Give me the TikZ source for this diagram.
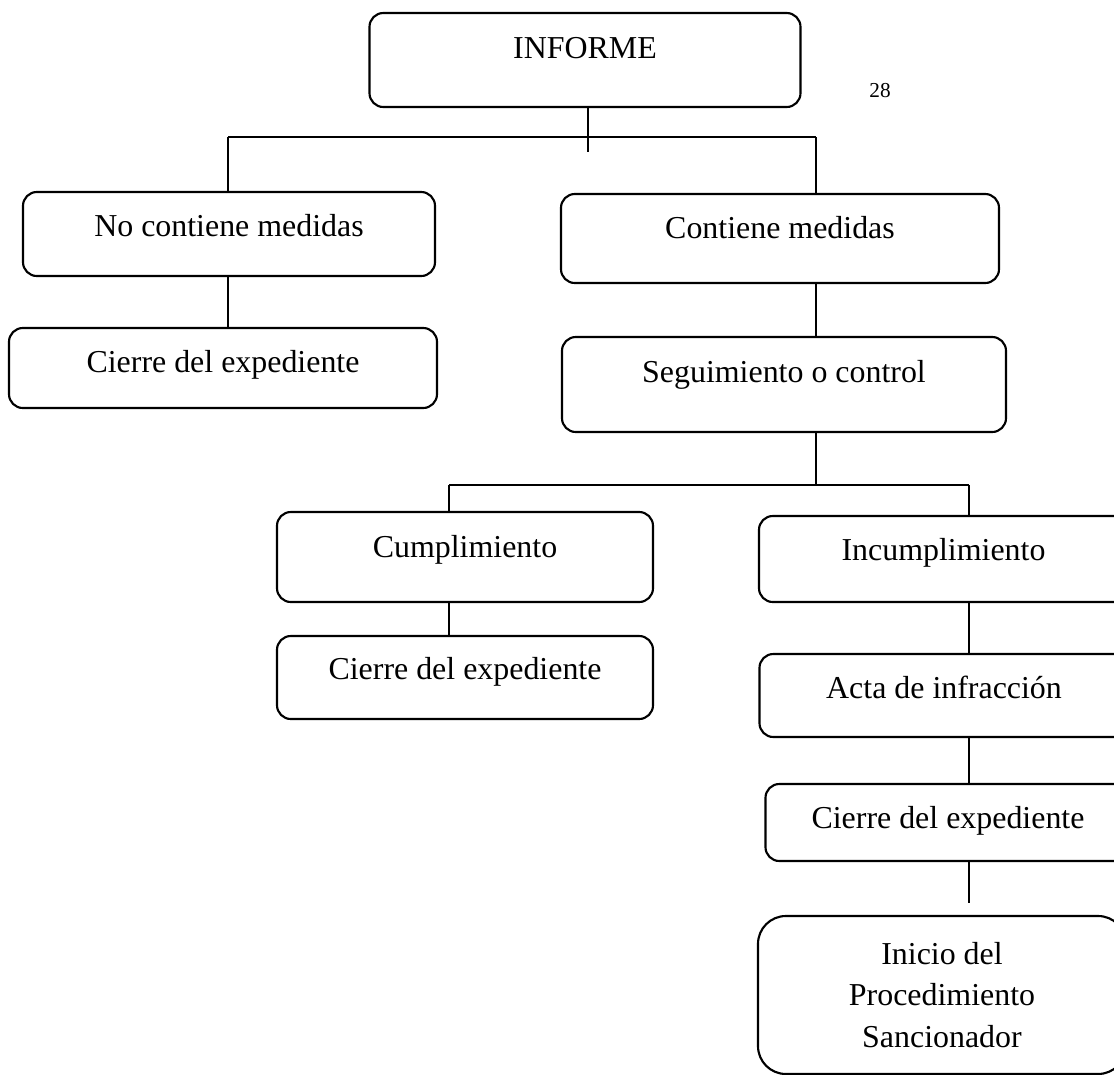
\documentclass[tikz,border=0pt]{standalone}
\usepackage{fontspec}
\setmainfont{Liberation Serif}
\usetikzlibrary{calc}

\begin{document}
\begin{tikzpicture}[x=0.376pt, y=-0.376pt, line width=0.8pt,
  caja/.style n args={3}{draw, rounded corners=5.2pt, inner sep=0pt, anchor=base,
    font=\fontsize{12}{15.6}\selectfont,
    minimum width=#1*0.376pt, text height=#2*0.376pt, text depth=#3*0.376pt},
  cajagrande/.style={draw, rounded corners=10.5pt, inner sep=0pt, align=center,
    font=\fontsize{12}{15.6}\selectfont,
    minimum width=368*0.376pt, minimum height=158*0.376pt},
  pagina/.style={font=\fontsize{8}{10}\selectfont, anchor=base}]
\clip (0,0) rectangle (1114,1075);

\node[caja={431}{45}{49}] (informe) at (585,58) {INFORME};
\node[pagina] (num) at (880,97) {28};

\node[caja={412}{44}{40}] (nocont) at (229,236) {No contiene medidas};
\node[caja={428}{44}{36}] (cierreA) at (223,372) {Cierre del expediente};

\node[caja={438}{44}{45}] (cont) at (780,238) {Contiene medidas};
\node[caja={444}{45}{50}] (seg) at (784,382) {Seguimiento o control};

\node[caja={376}{45}{45}] (cump) at (465,557) {Cumplimiento};
\node[caja={376}{43}{40}] (cierreB) at (465,679) {Cierre del expediente};

\node[caja={369}{44}{42}] (incump) at (943.5,560) {Incumplimiento};
\node[caja={369}{44}{39}] (acta) at (944,698) {Acta de infracción};
\node[caja={365}{44}{33}] (cierreC) at (948,828) {Cierre del expediente};
\node[cajagrande] (inicio) at (942,995) {Inicio del\\Procedimiento\\Sancionador};

% ramas
\coordinate (t1) at (588,152);
\coordinate (h1l) at (228,137);
\coordinate (h1r) at (816,137);
\coordinate (h2l) at (449,485);
\coordinate (h2r) at (969,485);
\coordinate (fin) at (969,903);

\draw (informe.south -| t1) -- (t1);
\draw (h1l) -- (h1r);
\draw (h1l) -- (h1l |- nocont.north);
\draw (h1r) -- (h1r |- cont.north);
\draw (nocont.south -| h1l) -- (cierreA.north -| h1l);
\draw (cont.south -| h1r) -- (seg.north -| h1r);
\draw (seg.south -| h1r) -- (h1r |- h2l);
\draw (h2l) -- (h2r);
\draw (h2l) -- (h2l |- cump.north);
\draw (h2r) -- (h2r |- incump.north);
\draw (cump.south -| h2l) -- (cierreB.north -| h2l);
\draw (incump.south -| h2r) -- (acta.north -| h2r);
\draw (acta.south -| h2r) -- (cierreC.north -| h2r);
\draw (cierreC.south -| fin) -- (fin);
\end{tikzpicture}
\end{document}
